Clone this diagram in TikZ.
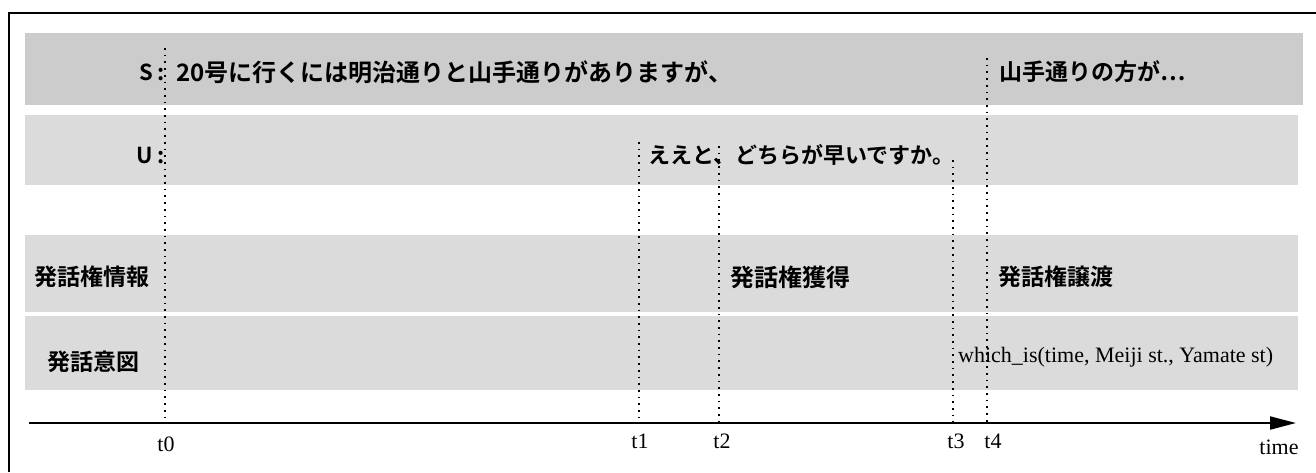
\documentclass[tikz,border=0pt]{standalone}
\usepackage{fontspec}
\setmainfont{Liberation Serif}
\newfontfamily\jp[BoldFont={Noto Sans CJK JP Bold}]{Noto Sans CJK JP}
\usetikzlibrary{arrows.meta}
\begin{document}
\begin{tikzpicture}[x=1pt,y=-1pt,
  band/.style={fill=gray!28,draw=none},
  bandS/.style={fill=gray!40,draw=none},
  jtxt/.style={font=\jp\bfseries\fontsize{23}{25}\selectfont,inner sep=0pt,anchor=west},
  ltxt/.style={font=\fontsize{22}{24}\selectfont,inner sep=0pt},
  tlab/.style={font=\fontsize{22}{24}\selectfont,inner sep=0pt},
  timeline/.style={line width=1.7pt,dash pattern=on 1.7pt off 5pt},
  axisline/.style={line width=2pt,-{Triangle[length=26pt,width=13pt]}},
  frameline/.style={line width=1.6pt}]
\useasboundingbox (0,0) rectangle (1316,472);
% frame
\coordinate (fTL) at (9,13);
\coordinate (fTR) at (1316,13);
\coordinate (fBL) at (9,472);
\draw[frameline] (fBL) -- (fTL) -- (fTR);
% bands
\fill[bandS] (25,33) rectangle (1303,105);
\fill[band] (25,115) rectangle (1298,185);
\fill[band] (25,235) rectangle (1298,312);
\fill[band] (25,316) rectangle (1298,390);
% row labels
\node[jtxt,font=\jp\bfseries\fontsize{22}{24}\selectfont] (lblS) at (139,72) {S :};
\node[jtxt,font=\jp\bfseries\fontsize{22}{24}\selectfont] (lblU) at (136,155) {U :};
\node[jtxt] (lblTurn) at (34,277) {発話権情報};
\node[jtxt] (lblInt) at (47,362) {発話意図};
% utterances
\node[jtxt,font=\jp\bfseries\fontsize{24}{26}\selectfont] (uttS1) at (176,72) {20号に行くには明治通りと山手通りがありますが、};
\node[jtxt,font=\jp\bfseries\fontsize{22}{24}\selectfont] (uttU) at (648,155) {ええと、どちらが早いですか。};
\node[jtxt] (uttS2) at (999,72) {山手通りの方が…};
\node[jtxt,font=\jp\bfseries\fontsize{24}{26}\selectfont] (turnGet) at (730,277) {発話権獲得};
\node[jtxt] (turnGive) at (998,277) {発話権譲渡};
\node[ltxt,anchor=west] (intent) at (958,357) {which\_is(time, Meiji st., Yamate st)};
% time points
\coordinate (t0top) at (165,48);
\coordinate (t0bot) at (165,423);
\coordinate (t1top) at (639,142);
\coordinate (t1bot) at (639,423);
\coordinate (t2top) at (719,146);
\coordinate (t2bot) at (719,423);
\coordinate (t3top) at (953,160);
\coordinate (t3bot) at (953,423);
\coordinate (t4top) at (987,58);
\coordinate (t4bot) at (987,423);
\draw[timeline] (t0top) -- (t0bot);
\draw[timeline] (t1top) -- (t1bot);
\draw[timeline] (t2top) -- (t2bot);
\draw[timeline] (t3top) -- (t3bot);
\draw[timeline] (t4top) -- (t4bot);
% axis
\coordinate (axL) at (29,423);
\coordinate (axR) at (1296,423);
\draw[axisline] (axL) -- (axR);
\node[tlab] (lt0) at (166,444) {t0};
\node[tlab] (lt1) at (640,441) {t1};
\node[tlab] (lt2) at (722,441) {t2};
\node[tlab] (lt3) at (956,441) {t3};
\node[tlab] (lt4) at (993,441) {t4};
\node[tlab] (ltime) at (1279,447) {time};
\end{tikzpicture}
\end{document}
